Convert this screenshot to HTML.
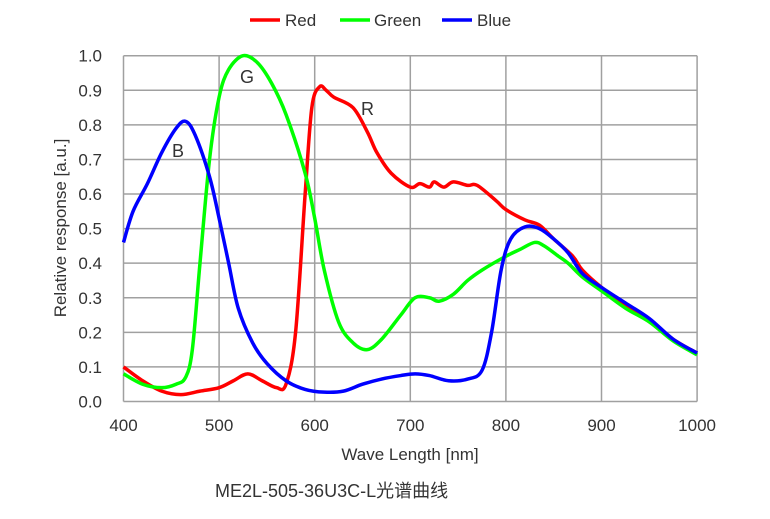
<!DOCTYPE html><html><head><meta charset="utf-8"><style>body{margin:0;background:#fff}svg{display:block}text{font-family:"Liberation Sans",Arial,sans-serif;fill:#333}</style></head><body>
<svg id="s" width="770" height="519" xmlns="http://www.w3.org/2000/svg">
<g id="grid" stroke="#a0a0a0" stroke-width="1.5" fill="none"></g>
<g id="lab" font-size="17"></g>
<g id="curves" fill="none" stroke-width="3.5" stroke-linejoin="round"></g>
<text x="240" y="83" font-size="18">G</text>
<text x="172" y="157" font-size="18">B</text>
<text x="361" y="115" font-size="18">R</text>
<line x1="250" y1="20" x2="280" y2="20" stroke="#f00" stroke-width="3.5"/><text x="285" y="26" font-size="17">Red</text>
<line x1="340" y1="20" x2="370" y2="20" stroke="#0f0" stroke-width="3.5"/><text x="374" y="26" font-size="17">Green</text>
<line x1="442" y1="20" x2="472" y2="20" stroke="#00f" stroke-width="3.5"/><text x="477" y="26" font-size="17">Blue</text>
<text x="410" y="460" font-size="17" text-anchor="middle">Wave Length [nm]</text>
<text transform="translate(66,228) rotate(-90)" font-size="17" text-anchor="middle">Relative response [a.u.]</text>
<text x="215" y="497" font-size="18" style="font-family:'Liberation Sans','Noto Sans CJK SC',sans-serif;fill:#333">ME2L-505-36U3C-L光谱曲线</text>
</svg>
<script>
const X=n=>123.5+(n-400)*0.956,Y=v=>401.5-v*345.8,ns="http://www.w3.org/2000/svg";
const g=document.getElementById('grid'),lab=document.getElementById('lab'),cv=document.getElementById('curves');
function el(p,t,a,txt){const e=document.createElementNS(ns,t);for(const k in a)e.setAttribute(k,a[k]);if(txt)e.textContent=txt;p.appendChild(e);}
for(let i=0;i<=10;i++){const y=Y(i/10);el(g,'line',{x1:X(400),x2:X(1000),y1:y,y2:y});el(lab,'text',{x:102,y:y+6,'text-anchor':'end'},(i/10).toFixed(1));}
for(let n=400;n<=1000;n+=100){el(g,'line',{x1:X(n),x2:X(n),y1:Y(0),y2:Y(1)});el(lab,'text',{x:X(n),y:431,'text-anchor':'middle'},n);}
const R=[[400,.10],[420,.06],[440,.03],[460,.02],[480,.03],[500,.04],[515,.06],[530,.08],[545,.06],[560,.04],[570,.05],[580,.2],[590,.6],[597,.85],[605,.91],[612,.9],[620,.88],[640,.85],[655,.78],[665,.72],[680,.66],[700,.62],[710,.63],[720,.62],[725,.635],[735,.62],[745,.635],[760,.625],[770,.625],[790,.58],[800,.555],[820,.525],[835,.51],[850,.47],[870,.42],[880,.38],[900,.33],[925,.28],[950,.235],[975,.18],[1000,.14]];
const G=[[400,.08],[420,.05],[440,.04],[455,.05],[465,.07],[472,.15],[480,.4],[490,.7],[500,.88],[510,.96],[525,1.0],[540,.98],[555,.92],[570,.83],[590,.66],[600,.53],[610,.38],[625,.23],[640,.17],[655,.15],[670,.18],[690,.25],[705,.3],[720,.3],[730,.29],[745,.31],[760,.35],[775,.38],[800,.42],[815,.44],[830,.46],[840,.45],[855,.42],[865,.40],[880,.36],[900,.32],[925,.27],[950,.23],[975,.175],[1000,.135]];
const B=[[400,.46],[410,.55],[425,.63],[440,.72],[455,.79],[465,.81],[475,.77],[490,.65],[500,.53],[510,.4],[520,.27],[535,.17],[550,.11],[570,.06],[590,.035],[610,.027],[630,.03],[650,.05],[670,.065],[690,.075],[705,.08],[720,.075],[740,.06],[760,.065],[775,.09],[785,.2],[795,.38],[805,.47],[820,.505],[835,.5],[850,.47],[865,.43],[880,.37],[900,.33],[925,.285],[950,.24],[975,.18],[1000,.14]];
function path(d){const p=d.map(a=>[X(a[0]),Y(a[1])]);let s='M'+p[0];for(let i=0;i<p.length-1;i++){const p0=p[i-1]||p[i],p1=p[i],p2=p[i+1],p3=p[i+2]||p2;const c1=[p1[0]+(p2[0]-p0[0])/6,p1[1]+(p2[1]-p0[1])/6],c2=[p2[0]-(p3[0]-p1[0])/6,p2[1]-(p3[1]-p1[1])/6];s+='C'+c1+' '+c2+' '+p2;}return s;}
el(cv,'path',{d:path(R),stroke:'#f00'});el(cv,'path',{d:path(G),stroke:'#0f0'});el(cv,'path',{d:path(B),stroke:'#00f'});
</script></body></html>
